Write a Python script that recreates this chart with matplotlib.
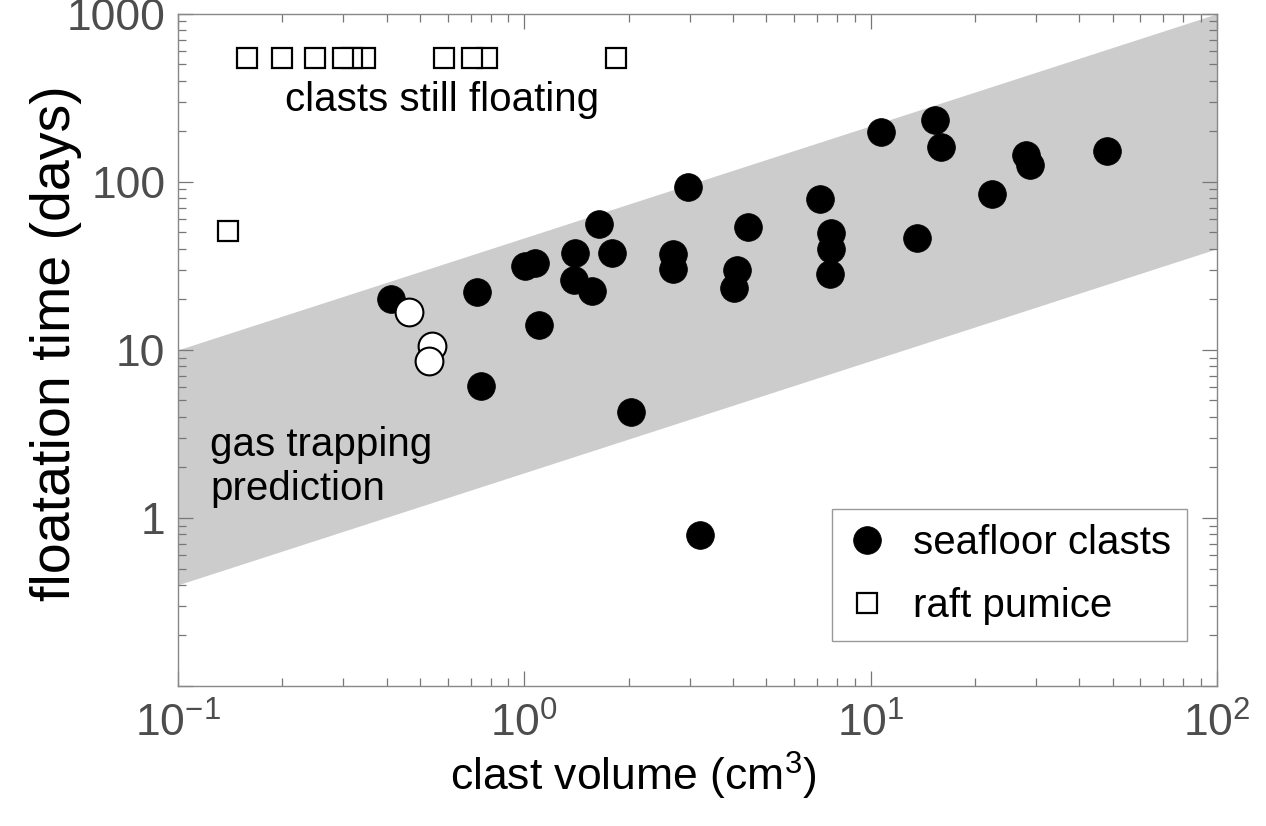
import matplotlib
matplotlib.use("Agg")
import matplotlib.pyplot as plt
from matplotlib.ticker import LogLocator, FixedLocator, FixedFormatter, NullFormatter

plt.rcParams['font.family'] = ['Liberation Sans', 'DejaVu Sans']
plt.rcParams['mathtext.fontset'] = 'custom'
plt.rcParams['mathtext.rm'] = 'Liberation Sans'
plt.rcParams['mathtext.it'] = 'Liberation Sans:italic'

# seafloor clasts (black)
sea_vol = [0.412, 0.729, 0.75, 1.005, 1.074, 1.10, 1.40, 1.39, 1.57, 1.64, 1.79,
           2.03, 2.97, 2.69, 2.69, 3.22, 4.43, 4.11, 4.03, 7.14, 7.69, 7.69, 7.64,
           10.7, 15.3, 16.0, 13.6, 22.4, 28.1, 28.9, 48.2]
sea_days = [20.0, 22.0, 6.1, 31.5, 32.8, 14.0, 37.6, 26.0, 22.3, 56.0, 37.6,
            4.28, 93.0, 37.0, 30.2, 0.79, 53.8, 29.8, 23.2, 79.0, 49.5, 39.8, 28.2,
            199.0, 232.0, 162.0, 46.3, 84.8, 145.0, 125.0, 153.0]

# open circles
open_vol = [0.464, 0.541, 0.531]
open_days = [16.9, 10.6, 8.6]

# raft pumice (still floating), drawn right to left
raft_vol = [1.836, 0.780, 0.706, 0.586, 0.346, 0.318, 0.2996, 0.249, 0.199, 0.1585, 0.139]
raft_days = [545, 545, 545, 545, 545, 545, 545, 545, 545, 545, 51]

# gas trapping prediction band edges
band_vol = [0.1, 100]
band_low = [0.4, 40]
band_high = [10, 1000]

fig = plt.figure(figsize=(12.66, 8.26), dpi=100)
ax = fig.add_axes([0.1406, 0.1695, 0.8207, 0.8139])

ax.fill_between(band_vol, band_low, band_high, color='#cccccc', linewidth=0, zorder=1)

ax.plot(sea_vol, sea_days, 'o', color='black', ms=20, mec='black', mew=0.5,
        label='seafloor clasts', zorder=3)
ax.plot(open_vol, open_days, 'o', mfc='white', mec='black', ms=20, mew=1.5, zorder=4)
ax.plot(raft_vol, raft_days, 's', mfc='white', mec='black', ms=15, mew=1.6,
        label='raft pumice', zorder=3)

ax.set_xscale('log')
ax.set_yscale('log')
ax.set_xlim(0.1, 100)
ax.set_ylim(0.1, 1000)

ax.xaxis.set_major_locator(FixedLocator([0.1, 1, 10, 100]))
ax.xaxis.set_major_formatter(FixedFormatter([r'$\mathregular{10^{-1}}$', r'$\mathregular{10^{0}}$',
                                             r'$\mathregular{10^{1}}$', r'$\mathregular{10^{2}}$']))
ax.xaxis.set_minor_locator(LogLocator(base=10, subs=range(2, 10)))
ax.xaxis.set_minor_formatter(NullFormatter())
ax.yaxis.set_major_locator(FixedLocator([0.1, 1, 10, 100, 1000]))
ax.yaxis.set_major_formatter(FixedFormatter(['', '1', '10', '100', '1000']))
ax.yaxis.set_minor_locator(LogLocator(base=10, subs=range(2, 10)))
ax.yaxis.set_minor_formatter(NullFormatter())

ax.tick_params(which='both', direction='in', top=True, right=True, color='#777777', width=0.9)
ax.tick_params(which='major', length=11, labelsize=32, labelcolor='#4d4d4d')
ax.tick_params(axis='x', which='major', pad=12)
ax.tick_params(axis='y', which='major', pad=9)
ax.tick_params(which='minor', length=6)
for s in ax.spines.values():
    s.set_color('#888888')
    s.set_linewidth(1.0)

ax.set_xlabel('clast volume (cm$^3$)', fontsize=32)
ax.xaxis.set_label_coords(0.438, -0.095)
ax.set_ylabel('floatation time (days)', fontsize=40)
ax.yaxis.set_label_coords(-0.092, 0.51)

ax.text(0.204, 305, 'clasts still floating', fontsize=29, ha='left', va='center')
ax.text(0.1237, 2.0, 'gas trapping\nprediction', fontsize=29, ha='left', va='center',
        linespacing=1.2)

leg = ax.legend(loc='upper left', bbox_to_anchor=(0.629, 0.263), fontsize=29,
                frameon=True, fancybox=False, framealpha=1, edgecolor='#999999',
                borderpad=0.38, labelspacing=0.62, handlelength=1.0, handletextpad=0.65,
                borderaxespad=0)
leg.get_frame().set_linewidth(1.0)

fig.savefig('out.png', dpi=100)
